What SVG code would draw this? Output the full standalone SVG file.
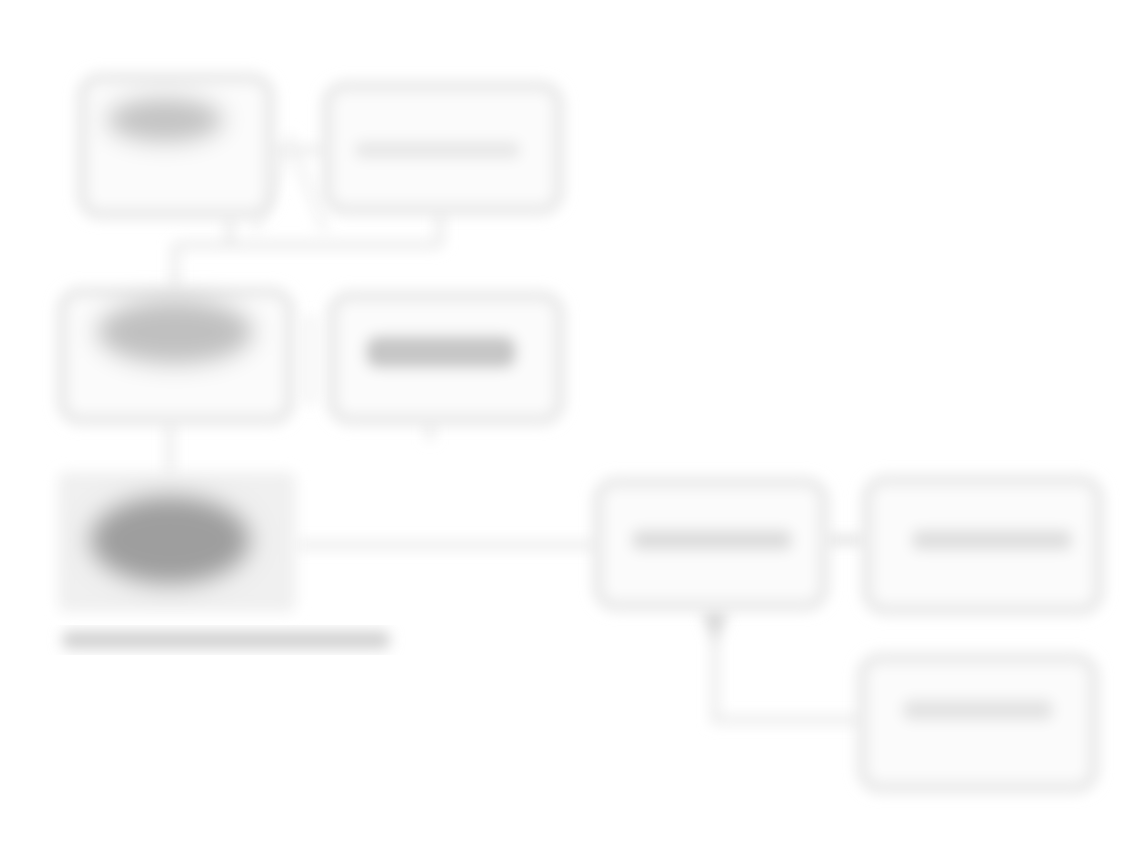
<svg xmlns="http://www.w3.org/2000/svg" width="1146" height="862" viewBox="0 0 1146 862">
<defs>
<filter id="blur" x="-20%" y="-30%" width="140%" height="160%"><feGaussianBlur stdDeviation="7"/></filter>
<filter id="blur2" x="-30%" y="-60%" width="160%" height="220%"><feGaussianBlur stdDeviation="10"/></filter>
</defs>
<style>
.box{fill:#fbfbfb;stroke:#e4e4e4;stroke-width:9}
.wire{fill:none;stroke:#e8e8e8;stroke-width:7}
</style>
<rect width="1146" height="862" fill="#ffffff"/>
<g id="connectors" filter="url(#blur)">
<path class="wire" d="M270,150 H325"/>
<path class="wire" d="M255,230 L290,140 L325,230" style="stroke:#efefef"/>
<path class="wire" d="M230,215 V245 M440,210 V245 M175,245 H440 M175,245 V290"/>
<path class="wire" d="M310,315 V405" style="stroke:#eeeeee"/>
<path class="wire" d="M430,420 V440"/>
<path class="wire" d="M170,420 V478"/>
<path class="wire" d="M295,545 H598"/>
<path class="wire" d="M825,540 H866" style="stroke:#d8d8d8"/>
<path class="wire" d="M715,605 V720 H862"/>
<path d="M702,612 L728,612 L715,645 Z" fill="#d6d6d6"/>
</g>
<g id="node-a" filter="url(#blur)">
<rect class="box" x="82" y="78" width="188" height="136" rx="18"/>
<ellipse cx="165" cy="120" rx="58" ry="22" fill="#c2c2c2" filter="url(#blur2)"/>
</g>
<g id="node-b" filter="url(#blur)">
<rect class="box" x="327" y="86" width="232" height="124" rx="18"/>
<rect x="355" y="142" width="165" height="16" rx="7" fill="#e6e6e6"/>
</g>
<g id="node-c" filter="url(#blur)">
<rect class="box" x="62" y="292" width="228" height="128" rx="18"/>
<ellipse cx="175" cy="332" rx="78" ry="32" fill="#c0c0c0" filter="url(#blur2)"/>
</g>
<g id="node-d" filter="url(#blur)">
<rect class="box" x="332" y="296" width="228" height="124" rx="18"/>
<rect x="366" y="336" width="150" height="32" rx="12" fill="#c6c6c6"/>
</g>
<g id="node-e" filter="url(#blur)">
<rect x="58" y="472" width="238" height="140" rx="8" fill="#f0f0f0"/>
<ellipse cx="170" cy="540" rx="80" ry="44" fill="#9e9e9e" filter="url(#blur2)"/>
</g>
<g id="caption" filter="url(#blur)">
<rect x="62" y="631" width="328" height="18" rx="7" fill="#d2d2d2"/>
</g>
<g id="node-f" filter="url(#blur)">
<rect class="box" x="598" y="482" width="226" height="124" rx="18"/>
<rect x="632" y="530" width="160" height="20" rx="8" fill="#dcdcdc"/>
</g>
<g id="node-g" filter="url(#blur)">
<rect class="box" x="867" y="480" width="232" height="130" rx="18"/>
<rect x="912" y="530" width="160" height="20" rx="8" fill="#dedede"/>
</g>
<g id="node-h" filter="url(#blur)">
<rect class="box" x="862" y="658" width="232" height="130" rx="18"/>
<rect x="903" y="700" width="150" height="20" rx="8" fill="#e2e2e2"/>
</g>
</svg>
